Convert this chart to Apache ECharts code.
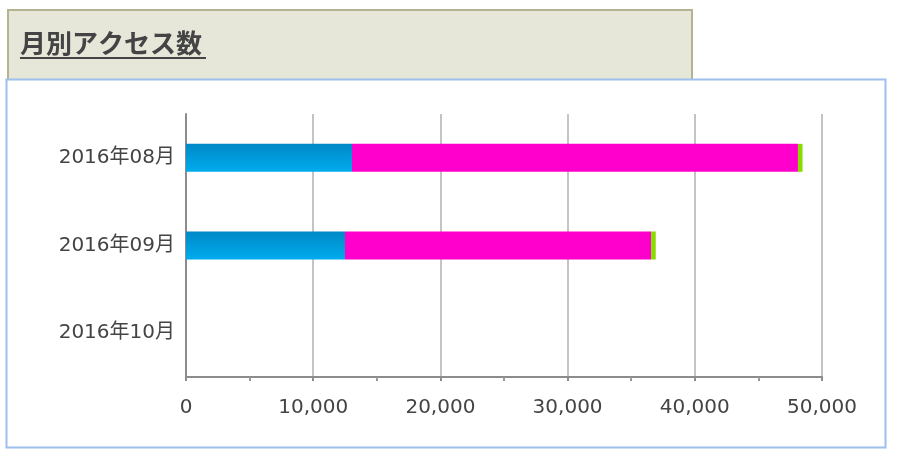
<!DOCTYPE html>
<html><head><meta charset="utf-8">
<script src="https://cdn.jsdelivr.net/npm/echarts@6/dist/echarts.min.js"></script>
<style>html,body{margin:0;padding:0;background:#fff;}#c{width:902px;height:460px;}</style>
</head><body><div id="c"></div>
<script>
const titleText = '月別アクセス数';
const categories = ['2016年08月', '2016年09月', '2016年10月'];
const seriesBlue = [13050, 12500, null];
const seriesMagenta = [35060, 24060, null];
const seriesGreen = [360, 370, null];
const xTicks = [0, 10000, 20000, 30000, 40000, 50000];

const chart = echarts.init(document.getElementById('c'), null, {renderer: 'canvas'});
const fmt = v => v.toLocaleString('en-US');
const labelFont = '"DejaVu Sans", "Noto Sans CJK JP", sans-serif';
chart.setOption({
  animation: false,
  backgroundColor: '#fff',
  graphic: [
    {type: 'rect', shape: {x: 8, y: 10, width: 684, height: 72}, style: {fill: '#e6e6d9', stroke: '#b3b38f', lineWidth: 2}, z: -20},
    {type: 'rect', shape: {x: 6.5, y: 79.5, width: 879, height: 368}, style: {fill: '#fff', stroke: '#9ec0ec', lineWidth: 2}, z: -10},
    {type: 'text', left: 20, top: 30, style: {text: titleText, fill: '#444', font: 'bold 26px "Noto Sans CJK JP", sans-serif'}, z: -5},
    {type: 'line', shape: {x1: 20, y1: 58, x2: 206, y2: 58}, style: {stroke: '#444', lineWidth: 2}, z: -5}
  ],
  grid: {left: 186, right: 80, top: 114, bottom: 83, containLabel: false},
  xAxis: {
    type: 'value', min: xTicks[0], max: xTicks[xTicks.length - 1], interval: 10000,
    axisLine: {show: true, lineStyle: {color: '#8c8c8c', width: 2}},
    axisTick: {show: true, length: 4, lineStyle: {color: '#8c8c8c', width: 2}},
    minorTick: {show: true, splitNumber: 2, length: 4, lineStyle: {color: '#999', width: 2}},
    splitLine: {show: true, lineStyle: {color: '#c4c4c4', width: 2}},
    axisLabel: {color: '#444', fontSize: 20, fontFamily: labelFont, margin: 21, formatter: fmt}
  },
  yAxis: {
    type: 'category', data: categories, inverse: true,
    axisLine: {show: true, lineStyle: {color: '#8c8c8c', width: 2}},
    axisTick: {show: false},
    axisLabel: {color: '#444', fontSize: 20, fontFamily: labelFont, margin: 11}
  },
  series: [
    {type: 'bar', stack: 'a', data: seriesBlue, barWidth: 28,
     itemStyle: {color: new echarts.graphic.LinearGradient(0, 0, 0, 1, [{offset: 0, color: '#0088c6'}, {offset: 1, color: '#00acee'}])}},
    {type: 'bar', stack: 'a', data: seriesMagenta, barWidth: 28, itemStyle: {color: '#ff00cc'}},
    {type: 'bar', stack: 'a', data: seriesGreen, barWidth: 28, itemStyle: {color: '#88dd00'}}
  ]
});
</script></body></html>
